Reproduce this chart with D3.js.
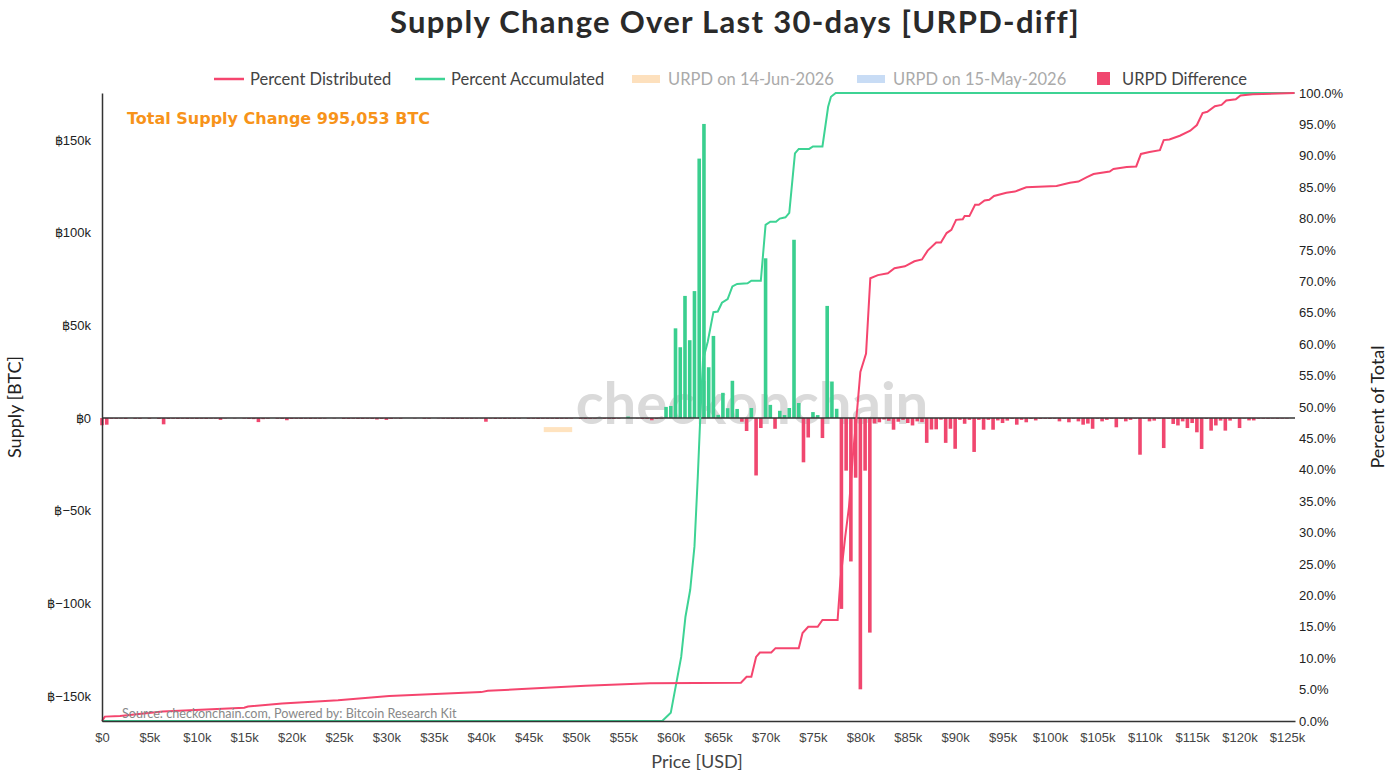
<!DOCTYPE html>
<html>
<head>
<meta charset="utf-8">
<script src="https://cdn.jsdelivr.net/npm/d3@7"></script>
<style>
  body { margin: 0; background: #fff; }
  svg { font-family: Lato, "Noto Sans", sans-serif; }
</style>
</head>
<body>
<div id="chart"></div>
<script>
// bins of $500 from $0 to $125k, values in thousand BTC
const binStep = 500;
const urpdDiff = [
  -3.9, -3.6, -0.4, -0.4, -0.3, -0.5, 0, -0.4, -0.4, 0,
  -0.4, 0, -0.5, -3.4, -0.5, -0.4, -0.5, -0.4, -0.5, -0.4,
  -0.5, -0.4, -0.5, -0.3, -0.3, -1.0, -0.2, 0, -0.2, 0,
  -0.3, -0.5, -0.6, -2.2, -0.6, -0.4, 0, -0.4, -0.5, -1.2,
  -0.5, -0.4, -0.5, -0.4, -0.5, -0.4, -0.4, -0.3, 0, -0.2,
  0, -0.5, -0.5, -0.4, -0.5, -0.5, -0.4, -0.5, -0.8, -0.5,
  -1.0, -0.5, -0.2, -0.4, 0, 0, -0.2, 0, -0.4, -0.4,
  0, -0.2, -0.4, -0.4, -0.5, -0.4, -0.5, -0.4, -0.4, -0.3,
  -0.2, -2.0, -0.3, -0.5, -0.4, -0.5, -0.4, -0.4, -0.3, 0,
  -0.4, -0.4, -0.5, -0.4, -0.4, -0.4, -0.5, -0.4, -0.4, -0.3,
  0, -0.4, -0.5, -0.4, -0.3, 0, -0.4, -0.4, -0.5, -0.3,
  0, 0.8, 0, -0.2, -0.5, -0.5, -1.2, -0.5, -0.3, 6.0,
  6.5, 48.4, 38.2, 65.9, 42.0, 68.5, 140.0, 158.7, 27.4, 44.3,
  1.7, 13.6, 5.3, 20.1, 4.9, -2.0, -7.0, 5.4, -31.0, -5.4,
  86.2, 7.1, -5.8, 3.9, 1.6, 5.4, 96.2, 8.1, -23.9, -10.5,
  3.2, 1.6, -10.8, 60.5, 19.7, 5.0, -103.0, -28.4, -77.4, -32.2,
  -146.4, -28.4, -115.8, -2.9, -2.3, -0.8, -1.5, -6.3, -2.0, -1.0,
  -2.7, -4.0, -1.8, -2.2, -13.4, -6.2, -6.1, -0.9, -13.4, -5.8,
  -16.6, -1.0, -3.1, -1.0, -18.3, -1.0, -6.3, -1.0, -6.3, -1.3,
  -2.7, -1.4, -0.5, -3.6, -1.0, -2.3, -0.5, -1.3, -0.5, -0.4,
  -0.5, -0.4, -1.8, -0.4, -2.3, -0.4, -1.8, -3.6, -3.0, -5.8,
  -0.4, -1.8, -1.0, -0.4, -5.0, -0.4, -1.8, -1.0, -0.3, -19.8,
  -0.3, -1.8, -1.4, -0.3, -16.2, -0.4, -3.2, -4.0, -1.8, -5.4,
  -2.7, -7.7, -16.7, -0.5, -6.8, -4.0, -1.4, -6.8, -1.4, -0.3,
  -5.4, -0.3, -1.3, -1.3, -0.4, -0.4, -0.4, -0.3, -0.4, -0.3,
  -0.3
];

// Percent Distributed (price in $k, percent)
const distPrice = [0, 0.3, 1.9, 6.4, 15.0, 15.4, 19.0, 24.9, 30.3, 40.0, 40.7, 44.3, 51.0, 57.8,
  67.4, 68.0, 68.5, 69.0, 69.4, 70.6, 71.05, 73.5, 73.9, 74.5, 75.5, 76.0, 77.6,
  77.9, 78.4, 78.8, 79.2, 79.6, 80.0, 80.6, 81.05, 81.85, 82.9, 83.6, 84.7, 85.7, 86.5,
  87.1, 88.0, 88.5, 89.1, 89.6, 90.1, 90.8, 91.0, 91.5, 92.1, 92.5, 93.1, 93.6, 94.1,
  95.4, 96.3, 97.5, 100.7, 102.1, 103.0, 103.9, 104.6, 106.3, 106.7, 108.1, 109.1,
  109.6, 110.5, 111.6, 112.0, 112.6, 113.7, 114.8, 115.5, 116.1, 116.6, 117.4, 118.1,
  118.6, 119.6, 120.1, 121.4, 125.8];
const distPct = [0, 0.7, 0.8, 1.5, 2.1, 2.3, 2.8, 3.3, 4.0, 4.6, 4.8, 5.1, 5.6, 6.0,
  6.1, 7.05, 7.05, 10.2, 10.9, 10.9, 11.6, 11.6, 14.0, 15.0, 15.0, 16.1, 16.1,
  22.5, 29.3, 34.1, 42.1, 48.5, 55.6, 58.5, 70.5, 71.0, 71.3, 72.1, 72.4, 73.2, 73.5,
  74.9, 76.2, 76.2, 77.7, 78.2, 79.8, 79.9, 80.4, 80.4, 82.2, 82.2, 82.9, 83.0, 83.6,
  84.1, 84.3, 85.0, 85.2, 85.7, 85.9, 86.6, 87.1, 87.5, 87.9, 88.2, 88.3,
  90.3, 90.6, 90.9, 92.5, 92.6, 93.2, 94.0, 94.9, 96.8, 97.0, 97.9, 98.1,
  98.8, 99.0, 99.6, 99.8, 100];

// Percent Accumulated
const accPrice = [0, 59.1, 60.0, 61.1, 61.55, 62.05, 62.5, 62.85, 63.1, 63.4, 63.9, 64.5, 64.96,
  65.4, 66.0, 66.5, 67.0, 68.1, 68.5, 69.5, 70.0, 70.5, 71.1, 71.5, 72.1, 72.5, 73.1,
  73.5, 74.6, 75.0, 76.0, 76.6, 76.9, 77.4, 125.8];
const accPct = [0, 0, 1.3, 10.2, 16.6, 20.9, 27.8, 38.9, 47.9, 57.5, 60.4, 65.1, 65.2,
  66.6, 67.2, 69.2, 69.6, 69.7, 70.1, 70.1, 79.0, 79.5, 79.5, 80.0, 80.2, 80.9, 90.4,
  91.1, 91.1, 91.5, 91.5, 97.8, 99.4, 100, 100];

// faint orange block (hidden URPD series remnant)
const ghostPrice = [46.6, 49.6];
const ghostValue = [-4.9, -7.6];

const leftTicks = [-150, -100, -50, 0, 50, 100, 150];
const rightTicks = d3.range(0, 101, 5);
const xTicks = d3.range(0, 125001, 5000);

const pink = "#f5456e";
const green = "#3dd394";

const W = 1399, H = 776;
const plot = { left: 102, right: 1295, top: 93, bottom: 721 };

const svg = d3.select("#chart").append("svg")
  .attr("width", W).attr("height", H);

const x = d3.scaleLinear().domain([0, 125850]).range([plot.left, plot.right]);
const yL = d3.scaleLinear().domain([-163.5, 175.4]).range([plot.bottom, plot.top]);
const yR = d3.scaleLinear().domain([0, 100]).range([plot.bottom, plot.top]);

// title
svg.append("text")
  .attr("x", 735).attr("y", 33)
  .attr("text-anchor", "middle")
  .attr("font-size", 31).attr("font-weight", 700).attr("fill", "#2a2a2a")
  .attr("letter-spacing", 1.3)
  .text("Supply Change Over Last 30-days [URPD-diff]");

// watermark
svg.append("text")
  .attr("x", 752).attr("y", 424)
  .attr("text-anchor", "middle")
  .attr("font-size", 58).attr("font-weight", 700).attr("fill", "#d4d4d4")
  .attr("opacity", 0.85)
  .text("checkonchain");

// ghost block
svg.append("rect")
  .attr("x", x(ghostPrice[0] * 1000))
  .attr("width", x(ghostPrice[1] * 1000) - x(ghostPrice[0] * 1000))
  .attr("y", yL(ghostValue[0]))
  .attr("height", yL(ghostValue[1]) - yL(ghostValue[0]))
  .attr("fill", "#ffe3bf");

// bars
const bars = urpdDiff.map((v, i) => ({ price: i * binStep, v }));
const bw = 3.6;
svg.append("g").selectAll("rect")
  .data(bars.filter(d => d.v !== 0))
  .enter().append("rect")
  .attr("x", d => x(d.price) - bw / 2)
  .attr("width", bw)
  .attr("y", d => d.v > 0 ? yL(d.v) : yL(0))
  .attr("height", d => Math.abs(yL(d.v) - yL(0)))
  .attr("fill", d => d.v > 0 ? "#3acf8f" : "#f0476f");

// zero line
svg.append("line")
  .attr("x1", plot.left).attr("x2", plot.right)
  .attr("y1", yL(0)).attr("y2", yL(0))
  .attr("stroke", "#333").attr("stroke-width", 1.5);

// lines
const line = d3.line().x(d => x(d[0] * 1000)).y(d => yR(d[1]));
svg.append("path")
  .datum(accPrice.map((p, i) => [p, accPct[i]]))
  .attr("fill", "none").attr("stroke", green).attr("stroke-width", 2)
  .attr("d", line);
svg.append("path")
  .datum(distPrice.map((p, i) => [p, distPct[i]]))
  .attr("fill", "none").attr("stroke", pink).attr("stroke-width", 2)
  .attr("d", line);

// axes
const xAxis = svg.append("g")
  .attr("transform", `translate(0,${plot.bottom})`)
  .call(d3.axisBottom(x).tickValues(xTicks).tickSize(0).tickPadding(12)
    .tickFormat(d => d === 0 ? "$0" : `$${d / 1000}k`));
xAxis.select(".domain").attr("stroke", "#333").attr("stroke-width", 1.5);
xAxis.selectAll("text").attr("font-size", 13).attr("fill", "#444");

const lAxis = svg.append("g")
  .attr("transform", `translate(${plot.left},0)`)
  .call(d3.axisLeft(yL).tickValues(leftTicks).tickSize(0).tickPadding(11)
    .tickFormat(d => d === 0 ? "฿0" : `฿${d < 0 ? "−" : ""}${Math.abs(d)}k`));
lAxis.select(".domain").attr("stroke", "#333").attr("stroke-width", 1.5);
lAxis.selectAll("text").attr("font-size", 13).attr("fill", "#222");

const rAxis = svg.append("g")
  .attr("transform", `translate(${plot.right},0)`)
  .call(d3.axisRight(yR).tickValues(rightTicks).tickSize(0).tickPadding(4)
    .tickFormat(d => d.toFixed(1) + "%"));
rAxis.select(".domain").remove();
rAxis.selectAll("text").attr("font-size", 13).attr("fill", "#222");

// axis titles
svg.append("text")
  .attr("x", 697).attr("y", 768).attr("text-anchor", "middle")
  .attr("font-size", 18).attr("fill", "#444").text("Price [USD]");
svg.append("text")
  .attr("transform", "translate(21,407) rotate(-90)").attr("text-anchor", "middle")
  .attr("font-size", 18).attr("fill", "#222").text("Supply [BTC]");
svg.append("text")
  .attr("transform", "translate(1384,407) rotate(-90)").attr("text-anchor", "middle")
  .attr("font-size", 18).attr("fill", "#222").text("Percent of Total");

// annotation
svg.append("text")
  .attr("x", 127).attr("y", 124)
  .style("font-family", "'DejaVu Sans', sans-serif")
  .attr("font-size", 16).attr("font-weight", 700).attr("fill", "#f7931a")
  .text("Total Supply Change 995,053 BTC");

// source
svg.append("text")
  .attr("x", 122).attr("y", 718)
  .attr("font-size", 12.6).attr("fill", "#888")
  .text("Source: checkonchain.com, Powered by: Bitcoin Research Kit");

// legend
const legend = [
  { label: "Percent Distributed", type: "line", color: pink, x: 214, off: false },
  { label: "Percent Accumulated", type: "line", color: green, x: 415, off: false },
  { label: "URPD on 14-Jun-2026", type: "rect", color: "#fde0bd", x: 632, off: true },
  { label: "URPD on 15-May-2026", type: "rect", color: "#c8dcf5", x: 857, off: true },
  { label: "URPD Difference", type: "sq", color: "#f0476f", x: 1097, off: false }
];
const lg = svg.append("g");
legend.forEach(d => {
  if (d.type === "line") {
    lg.append("line").attr("x1", d.x).attr("x2", d.x + 30).attr("y1", 79).attr("y2", 79)
      .attr("stroke", d.color).attr("stroke-width", 2.5);
  } else if (d.type === "rect") {
    lg.append("rect").attr("x", d.x).attr("y", 75).attr("width", 28).attr("height", 8)
      .attr("fill", d.color);
  } else {
    lg.append("rect").attr("x", d.x).attr("y", 72).attr("width", 13).attr("height", 13)
      .attr("fill", d.color);
  }
  lg.append("text")
    .attr("x", d.type === "sq" ? d.x + 25 : d.x + 36).attr("y", 84.5)
    .attr("font-size", 16.5).attr("fill", d.off ? "#aaa" : "#444")
    .text(d.label);
});
</script>
</body>
</html>
